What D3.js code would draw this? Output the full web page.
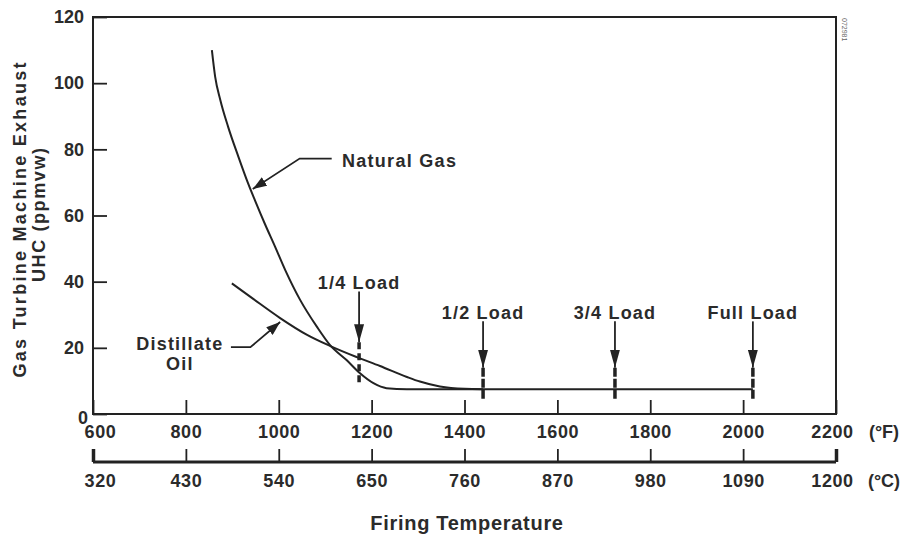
<!DOCTYPE html>
<html>
<head>
<meta charset="utf-8">
<script src="https://cdn.jsdelivr.net/npm/d3@7"></script>
<style>
  body { margin: 0; background: #fff; }
  svg text { font-family: "Liberation Sans", Arial, sans-serif; font-weight: bold; fill: #2b2b2b; }
</style>
</head>
<body>
<svg id="chart" width="908" height="535"></svg>
<script>
// data
const gasTemp = [856, 863, 874, 891, 913, 934, 949, 970, 992, 1014, 1046, 1082, 1110, 1146, 1175, 1204, 1232, 1276, 1400, 1600, 1800, 2021];
const gasUhc  = [110, 102, 95, 86.8, 77.8, 69.7, 64.5, 57.5, 50.6, 43.5, 34.5, 26.4, 20.9, 16.3, 12.3, 9.3, 7.8, 7.5, 7.5, 7.5, 7.5, 7.5];

const oilTemp = [899, 945, 1003, 1060, 1110, 1168, 1218, 1276, 1304, 1347, 1400, 1440];
const oilUhc  = [39.5, 34.8, 29, 24, 20.6, 17.2, 14.5, 11.2, 9.8, 8.3, 7.6, 7.5];

const loadNames = ["1/4 Load", "1/2 Load", "3/4 Load", "Full Load"];
const loadTemps = [1173, 1440, 1724, 2021];
const loadArrowTop = [37, 28, 28, 28];
const loadArrowTip = [21.7, 14, 14, 14];
const loadMarkEnd = [8.5, 4, 4, 4];

const fTicks = [600, 800, 1000, 1200, 1400, 1600, 1800, 2000, 2200];
const cTicks = [320, 430, 540, 650, 760, 870, 980, 1090, 1200];
const yTicks = [0, 20, 40, 60, 80, 100, 120];

const svg = d3.select("#chart");
const mLeft = 93, mRight = 836, mTop = 17, mBottom = 414;

const x = d3.scaleLinear().domain([600, 2200]).range([mLeft, mRight]);
const xc = d3.scaleLinear().domain([320, 1200]).range([mLeft, mRight]);
const y = d3.scaleLinear().domain([0, 120]).range([mBottom, mTop]);

const ink = "#222";

// arrow heads
const defs = svg.append("defs");
defs.append("marker").attr("id", "loadHead")
  .attr("viewBox", "0 0 10 18").attr("refX", 5).attr("refY", 18)
  .attr("markerWidth", 10).attr("markerHeight", 18).attr("markerUnits", "userSpaceOnUse")
  .attr("orient", "0")
  .append("path").attr("d", "M0,0 L10,0 L5,18 Z").attr("fill", ink);
defs.append("marker").attr("id", "leadHead")
  .attr("viewBox", "0 0 14 10").attr("refX", 14).attr("refY", 5)
  .attr("markerWidth", 14).attr("markerHeight", 10).attr("markerUnits", "userSpaceOnUse")
  .attr("orient", "auto")
  .append("path").attr("d", "M0,0 L14,5 L0,10 Z").attr("fill", ink);

// frame
svg.append("rect")
  .attr("x", mLeft).attr("y", mTop)
  .attr("width", mRight - mLeft).attr("height", mBottom - mTop)
  .attr("fill", "none").attr("stroke", ink).attr("stroke-width", 2);

// °F axis (ticks inside the frame)
const xAxis = svg.append("g")
  .attr("transform", `translate(0,${mBottom})`)
  .call(d3.axisBottom(x).tickValues(fTicks).tickSizeInner(-14).tickSizeOuter(0).tickPadding(11).tickFormat(d3.format("d")));
xAxis.select(".domain").remove();
xAxis.selectAll("line").attr("stroke", ink).attr("stroke-width", 1.8);
xAxis.selectAll("text").style("font-size", "18px").style("letter-spacing", "0.6px")
  .attr("dx", (d) => d === 600 ? 7 : d === 2200 ? -4 : 0);

// y axis
const yAxis = svg.append("g")
  .attr("transform", `translate(${mLeft},0)`)
  .call(d3.axisLeft(y).tickValues(yTicks).tickSizeInner(-14).tickSizeOuter(0).tickPadding(9));
yAxis.select(".domain").remove();
yAxis.selectAll("line").attr("stroke", ink).attr("stroke-width", 1.8);
yAxis.selectAll("text").style("font-size", "18px")
  .attr("dy", (d) => d === 0 ? "0.5em" : "0.32em")
  .attr("dx", (d) => d === 0 ? 4 : 0);

// °C scale bar
const cy = 462;
svg.append("line")
  .attr("x1", xc(320)).attr("x2", xc(1200)).attr("y1", cy).attr("y2", cy)
  .attr("stroke", ink).attr("stroke-width", 3);
const cAxis = svg.append("g")
  .attr("transform", `translate(0,${cy})`)
  .call(d3.axisBottom(xc).tickValues(cTicks).tickSizeInner(-13).tickSizeOuter(0).tickPadding(12).tickFormat(d3.format("d")));
cAxis.select(".domain").remove();
cAxis.selectAll("line").attr("stroke", ink)
  .attr("stroke-width", (d) => d === 320 || d === 1200 ? 3.5 : 1.8);
cAxis.selectAll("text").style("font-size", "18px").style("letter-spacing", "0.6px")
  .attr("dx", (d) => d === 320 ? 7 : d === 1200 ? -4 : 0);

svg.selectAll(".tick text").style("fill", "#2b2b2b");

svg.append("text").attr("x", 884).attr("y", 432).attr("dy", "0.35em")
  .attr("text-anchor", "middle").style("font-size", "18px").text("(°F)");
svg.append("text").attr("x", 884).attr("y", 481).attr("dy", "0.35em")
  .attr("text-anchor", "middle").style("font-size", "18px").text("(°C)");

// axis titles
svg.append("text").attr("x", 467).attr("y", 523).attr("dy", "0.35em")
  .attr("text-anchor", "middle").style("font-size", "20px").style("letter-spacing", "0.7px")
  .text("Firing Temperature");
svg.append("text")
  .attr("transform", "translate(20,220) rotate(-90)")
  .attr("text-anchor", "middle").attr("dy", "0.35em")
  .attr("textLength", 315).attr("lengthAdjust", "spacing")
  .style("font-size", "18px").text("Gas Turbine Machine Exhaust");
svg.append("text")
  .attr("transform", "translate(39,215) rotate(-90)")
  .attr("text-anchor", "middle").attr("dy", "0.35em")
  .attr("textLength", 134).attr("lengthAdjust", "spacing")
  .style("font-size", "18px").text("UHC (ppmvw)");

// small figure code at top right
svg.append("text")
  .attr("transform", "translate(842,18) rotate(90)")
  .style("font-size", "7px").style("font-weight", "normal").style("fill", "#666")
  .text("072981");

// curves
const line = d3.line().x((d) => x(d[0])).y((d) => y(d[1])).curve(d3.curveMonotoneX);
svg.append("path")
  .datum(d3.zip(gasTemp, gasUhc))
  .attr("d", line).attr("fill", "none").attr("stroke", ink).attr("stroke-width", 2);
svg.append("path")
  .datum(d3.zip(oilTemp, oilUhc))
  .attr("d", line).attr("fill", "none").attr("stroke", ink).attr("stroke-width", 2);

// load markers
loadTemps.forEach((t, i) => {
  svg.append("line")
    .attr("x1", x(t)).attr("x2", x(t))
    .attr("y1", y(loadArrowTop[i])).attr("y2", y(loadArrowTip[i]))
    .attr("stroke", ink).attr("stroke-width", 1.8)
    .attr("marker-end", "url(#loadHead)");
  svg.append("line")
    .attr("x1", x(t)).attr("x2", x(t))
    .attr("y1", y(loadArrowTip[i])).attr("y2", y(loadMarkEnd[i]))
    .attr("stroke", ink).attr("stroke-width", 3.5)
    .attr("stroke-dasharray", i === 0 ? "7,4" : "9,2");
  svg.append("text")
    .attr("x", x(t)).attr("y", y(loadArrowTop[i]) - 9)
    .attr("text-anchor", "middle").attr("dy", "0.35em")
    .style("font-size", "18px").style("letter-spacing", "1.2px").text(loadNames[i]);
});

// curve labels with leader arrows
const pt = (f, v) => [x(f), y(v)];
const lead = d3.line();
svg.append("text")
  .attr("x", x(1136)).attr("y", y(76.7)).attr("dy", "0.35em")
  .style("font-size", "18px").style("letter-spacing", "1.3px").text("Natural Gas");
svg.append("path")
  .attr("d", lead([pt(1114, 77.2), pt(1045, 77.2), pt(944, 68)]))
  .attr("fill", "none").attr("stroke", ink).attr("stroke-width", 1.8)
  .attr("marker-end", "url(#leadHead)");

svg.append("text")
  .attr("x", x(787)).attr("y", y(21.2)).attr("dy", "0.35em")
  .attr("text-anchor", "middle").style("font-size", "18px").style("letter-spacing", "1.2px")
  .text("Distillate");
svg.append("text")
  .attr("x", x(787)).attr("y", y(15.1)).attr("dy", "0.35em")
  .attr("text-anchor", "middle").style("font-size", "18px").style("letter-spacing", "1.2px")
  .text("Oil");
svg.append("path")
  .attr("d", lead([pt(897, 20.2), pt(939, 20.2), pt(1003, 27.8)]))
  .attr("fill", "none").attr("stroke", ink).attr("stroke-width", 1.8)
  .attr("marker-end", "url(#leadHead)");
</script>
</body>
</html>
